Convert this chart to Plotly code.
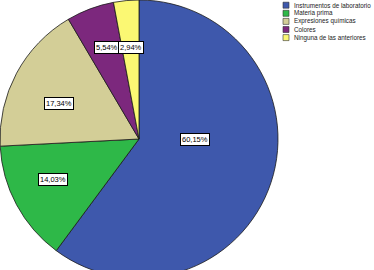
import numpy as np
import plotly.graph_objects as go

categories = ["Instrumentos de laboratorio", "Materia prima", "Expresiones químicas",
              "Colores", "Ninguna de las anteriores"]
values = [60.15, 14.03, 17.34, 5.54, 2.94]
colors = ["#3E58AC", "#2EB848", "#D3CE97", "#7C287D", "#FBF873"]
label_radius = [0.40, 0.68, 0.63, 0.70, 0.66]
label_angle_shift = [-18, 3, -4.4, 1.3, 0]

W, H = 374, 278
cx, cy, R = 139, 139, 139

def px(x):
    return x / W

def py(y):
    return 1 - y / H

fig = go.Figure(go.Pie(
    labels=categories, values=values, sort=False, direction="clockwise", rotation=0,
    marker=dict(colors=colors, line=dict(color="#1a1a1a", width=0.8)),
    textinfo="none", hoverinfo="label+percent", showlegend=False,
    domain=dict(x=[px(cx - R), px(cx + R)], y=[0, 1]),
))

vals = np.array(values, dtype=float)
frac = vals / vals.sum()
cum = np.concatenate([[0], np.cumsum(frac)])
annotations = []
for i, v in enumerate(values):
    theta = 2 * np.pi * (cum[i] + cum[i + 1]) / 2 + np.radians(label_angle_shift[i])
    r = label_radius[i] * R
    x = cx + r * np.sin(theta)
    y = cy - r * np.cos(theta)
    annotations.append(dict(
        x=px(x), y=py(y), xref="paper", yref="paper", showarrow=False,
        xanchor="center", yanchor="middle",
        text=f"{v:.2f}%".replace(".", ","),
        font=dict(family="Liberation Sans, Arial", size=7.5, color="black"),
        bgcolor="white", bordercolor="black", borderwidth=1, borderpad=1,
    ))

shapes = []
lx, ly0, dy, sq = 283, 5.2, 8.1, 6
for i, (c, col) in enumerate(zip(categories, colors)):
    yc = ly0 + i * dy
    shapes.append(dict(type="rect", xref="paper", yref="paper",
                       x0=px(lx), x1=px(lx + sq), y0=py(yc + sq / 2), y1=py(yc - sq / 2),
                       fillcolor=col, line=dict(color="#333", width=0.6)))
    annotations.append(dict(
        x=px(lx + sq + 3), y=py(yc), xref="paper", yref="paper", showarrow=False,
        xanchor="left", yanchor="middle", text=c,
        font=dict(family="Liberation Sans, Arial", size=6.3, color="#222"),
    ))

fig.update_layout(
    width=W, height=H, margin=dict(l=0, r=0, t=0, b=0),
    paper_bgcolor="white", plot_bgcolor="white",
    annotations=annotations, shapes=shapes,
)

fig.write_html("out.html", config={"displayModeBar": False},
               post_script="document.body.style.margin='0';document.body.style.overflow='hidden';document.documentElement.style.overflow='hidden';")
